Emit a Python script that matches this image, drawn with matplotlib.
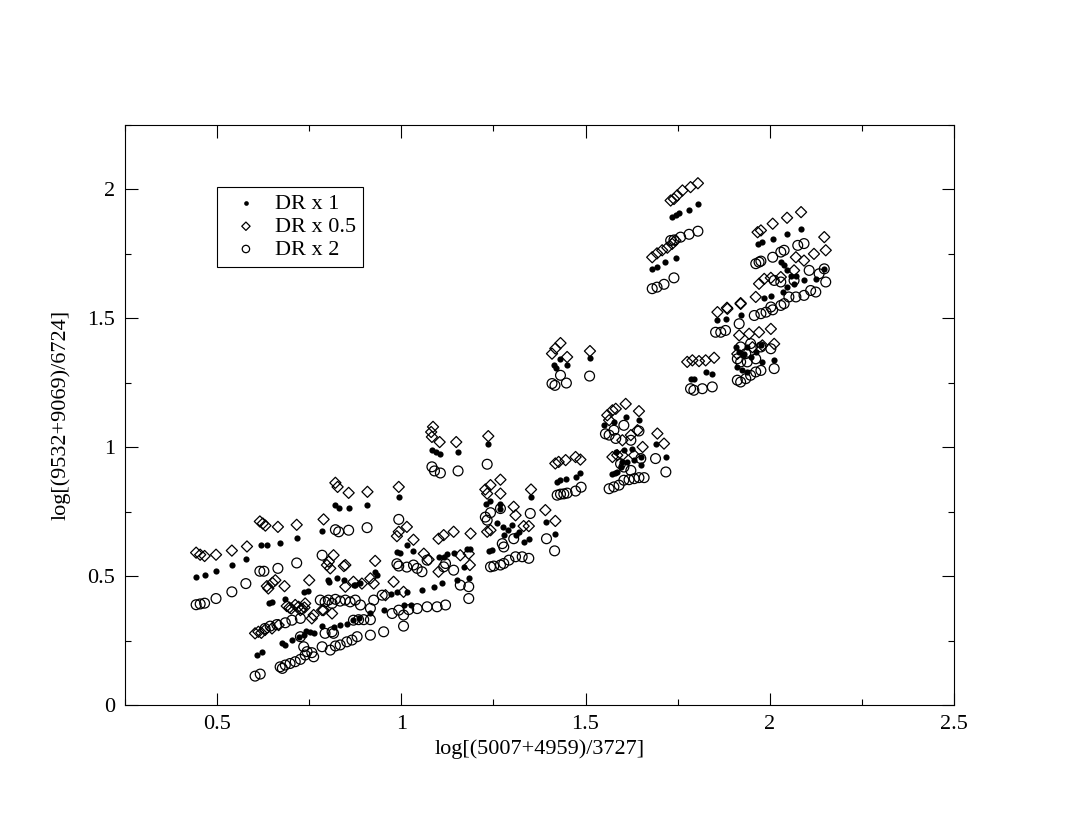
import matplotlib
matplotlib.use('Agg')
import matplotlib.pyplot as plt
from matplotlib.ticker import MultipleLocator, FuncFormatter

plt.rcParams['font.family'] = ['Liberation Serif', 'DejaVu Serif']

# DR x 1 (filled dots)
dr1_x = [0.443, 0.466, 0.497, 0.540, 0.578,
         0.619, 0.635, 0.670, 0.716,
         0.785, 0.821, 0.832, 0.857, 0.908, 0.993,
         1.083, 1.094, 1.106, 1.154, 1.236,
         1.414, 1.419, 1.432, 1.450, 1.512,
         1.423, 1.432, 1.446, 1.473, 1.486,
         1.550, 1.577, 1.609, 1.645, 1.690, 1.718, 1.582, 1.604, 1.627, 1.600,
         1.613, 1.632, 1.650, 1.573, 1.586, 1.595, 1.650, 1.580,
         1.736, 1.745, 1.754, 1.781, 1.805, 1.681, 1.694, 1.717, 1.745,
         1.785, 1.794, 1.826, 1.844,
         1.858, 1.880, 1.921, 1.908, 1.917, 1.930, 1.939, 1.948, 1.962, 1.976,
         1.980, 2.012, 1.912, 1.925, 1.939,
         1.967, 1.980, 2.008, 2.047, 2.085, 2.030, 2.039, 2.048, 2.057, 2.071,
         2.093, 2.125, 2.148, 1.984, 2.003, 2.035, 2.048, 2.066,
         0.608, 0.621, 0.676, 0.685, 0.703, 0.721, 0.735, 0.753, 0.785, 0.740,
         0.762, 0.816, 0.834, 0.852, 0.870, 0.884, 0.916, 0.952, 1.006, 1.025,
         0.641, 0.650, 0.685, 0.748, 0.736, 0.802, 0.825, 0.803, 0.844, 0.875,
         0.929, 0.971, 0.989, 1.016, 1.057, 1.088, 1.111, 1.152, 0.872, 0.887,
         0.933,
         0.988, 0.997, 1.015, 1.033, 1.101, 1.115, 1.124, 1.142, 1.178, 1.186,
         1.183, 1.169,
         1.231, 1.242, 1.269, 1.269, 1.352, 1.394, 1.416, 1.346, 1.332, 1.246,
         1.237, 1.275, 1.290, 1.300, 1.310, 1.320, 1.280, 1.260]
dr1_y = [0.498, 0.503, 0.519, 0.543, 0.567,
         0.622, 0.622, 0.630, 0.647,
         0.676, 0.775, 0.765, 0.765, 0.777, 0.807,
         0.988, 0.980, 0.972, 0.983, 1.012,
         1.318, 1.309, 1.343, 1.318, 1.347,
         0.864, 0.872, 0.876, 0.885, 0.899,
         1.085, 1.098, 1.117, 1.105, 1.014, 0.962, 0.982, 0.988, 0.995, 0.943,
         0.943, 0.950, 0.930, 0.897, 0.903, 0.923, 0.962, 0.899,
         1.893, 1.899, 1.908, 1.920, 1.944, 1.692, 1.701, 1.718, 1.735,
         1.266, 1.266, 1.292, 1.283,
         1.495, 1.499, 1.512, 1.389, 1.370, 1.363, 1.389, 1.350, 1.370, 1.395,
         1.331, 1.337, 1.312, 1.298, 1.292,
         1.789, 1.796, 1.808, 1.828, 1.847, 1.718, 1.705, 1.686, 1.666, 1.666,
         1.647, 1.654, 1.692, 1.579, 1.585, 1.602, 1.621, 1.634,
         0.194, 0.207, 0.239, 0.233, 0.252, 0.262, 0.271, 0.284, 0.306, 0.288,
         0.280, 0.304, 0.310, 0.316, 0.329, 0.336, 0.355, 0.368, 0.388, 0.388,
         0.397, 0.400, 0.410, 0.442, 0.439, 0.484, 0.491, 0.478, 0.484, 0.465,
         0.517, 0.432, 0.439, 0.439, 0.446, 0.459, 0.472, 0.484, 0.466, 0.474,
         0.506,
         0.594, 0.588, 0.620, 0.597, 0.575, 0.575, 0.585, 0.590, 0.607, 0.607,
         0.491, 0.536,
         0.781, 0.792, 0.781, 0.762, 0.805, 0.710, 0.665, 0.643, 0.633, 0.601,
         0.598, 0.690, 0.680, 0.700, 0.660, 0.670, 0.660, 0.705]

# DR x 0.5 (open diamonds)
dr05_x = [0.443, 0.454, 0.466, 0.497, 0.540, 0.581,
          0.616, 0.624, 0.631, 0.665, 0.716,
          0.789, 0.821, 0.827, 0.857, 0.908, 0.993,
          1.086, 1.081, 1.083, 1.104, 1.149, 1.236,
          1.432, 1.418, 1.409, 1.450, 1.512,
          1.418, 1.427, 1.446, 1.473, 1.486,
          1.559, 1.573, 1.582, 1.564, 1.609, 1.645, 1.695, 1.713, 1.573, 1.586,
          1.600, 1.623, 1.641, 1.655, 1.632, 1.600,
          1.731, 1.740, 1.749, 1.763, 1.785, 1.805, 1.681, 1.694, 1.708, 1.722,
          1.735, 1.744,
          1.776, 1.790, 1.808, 1.826, 1.849,
          1.858, 1.885, 1.921, 1.917, 1.944, 1.971, 2.003, 2.012, 1.912, 1.953,
          1.980,
          1.967, 1.976, 2.008, 2.047, 2.085, 2.148, 2.152, 2.120, 2.093, 2.071,
          2.066, 2.030, 1.985, 1.971, 1.962, 1.921, 1.884, 2.003,
          0.603, 0.612, 0.620, 0.630, 0.649, 0.667, 0.689, 0.696, 0.701, 0.712,
          0.721, 0.730, 0.737, 0.762, 0.785, 0.812, 0.726, 0.739, 0.757, 0.789,
          0.635, 0.639, 0.650, 0.658, 0.683, 0.750,
          0.816, 0.798, 0.807, 0.848, 0.929, 0.848, 0.870, 0.893, 0.916, 0.925,
          0.957, 0.979, 1.006,
          0.993, 0.988, 1.015, 1.033, 1.101, 1.115, 1.142, 1.188, 0.803, 0.844,
          1.061, 1.074, 1.160, 1.183, 1.101,
          1.269, 1.242, 1.228, 1.233, 1.269, 1.352, 1.305, 1.310, 1.332, 1.346,
          1.242, 1.233, 1.391, 1.418, 1.186]
dr05_y = [0.591, 0.583, 0.578, 0.583, 0.599, 0.615,
          0.712, 0.704, 0.696, 0.691, 0.699,
          0.720, 0.862, 0.846, 0.823, 0.827, 0.846,
          1.079, 1.059, 1.040, 1.020, 1.020, 1.043,
          1.404, 1.383, 1.363, 1.350, 1.373,
          0.937, 0.943, 0.950, 0.962, 0.952,
          1.124, 1.143, 1.149, 1.105, 1.168, 1.140, 1.053, 1.014, 0.962, 0.969,
          1.027, 1.047, 1.066, 1.001, 0.969, 0.969,
          1.957, 1.963, 1.977, 1.996, 2.009, 2.024, 1.737, 1.752, 1.764, 1.774,
          1.789, 1.802,
          1.331, 1.337, 1.334, 1.337, 1.347,
          1.524, 1.537, 1.556, 1.434, 1.440, 1.446, 1.459, 1.401, 1.362, 1.388,
          1.395,
          1.834, 1.841, 1.867, 1.890, 1.912, 1.815, 1.764, 1.750, 1.724, 1.737,
          1.686, 1.660, 1.653, 1.634, 1.583, 1.559, 1.541, 1.657,
          0.278, 0.284, 0.280, 0.291, 0.297, 0.310, 0.384, 0.378, 0.374, 0.388,
          0.381, 0.374, 0.378, 0.349, 0.368, 0.355, 0.368, 0.394, 0.336, 0.368,
          0.461, 0.452, 0.474, 0.484, 0.461, 0.484,
          0.581, 0.543, 0.530, 0.543, 0.559, 0.459, 0.478, 0.471, 0.491, 0.471,
          0.426, 0.478, 0.439,
          0.672, 0.655, 0.691, 0.641, 0.645, 0.659, 0.672, 0.665, 0.556, 0.539,
          0.587, 0.564, 0.581, 0.587, 0.517,
          0.874, 0.853, 0.836, 0.820, 0.820, 0.836, 0.769, 0.736, 0.694, 0.694,
          0.678, 0.672, 0.756, 0.714, 0.543]

# DR x 2 (open circles)
dr2_x = [0.443, 0.454, 0.466, 0.497, 0.540, 0.578,
         0.616, 0.627, 0.665, 0.716,
         0.785, 0.821, 0.830, 0.857, 0.907, 0.993,
         1.083, 1.090, 1.106, 1.154, 1.233,
         1.409, 1.417, 1.432, 1.448, 1.511,
         1.423, 1.432, 1.441, 1.450, 1.473, 1.488,
         1.554, 1.564, 1.577, 1.604, 1.645, 1.690, 1.718, 1.582, 1.623, 1.604,
         1.623, 1.650, 1.564, 1.577, 1.591, 1.604, 1.618, 1.632, 1.645, 1.659,
         1.595,
         1.731, 1.740, 1.758, 1.781, 1.805, 1.681, 1.694, 1.713, 1.740,
         1.785, 1.794, 1.817, 1.844,
         1.853, 1.867, 1.880, 1.917, 1.921, 1.935, 1.948, 1.976, 2.003, 1.912,
         1.921, 1.939, 1.962, 1.912, 1.921, 1.935, 1.948, 1.962, 1.976, 2.012,
         1.958, 1.976, 1.990, 2.008, 2.030, 2.039, 1.962, 1.971, 1.976, 2.008,
         2.030, 2.039, 2.076, 2.093, 2.012, 2.030, 2.066, 2.107, 2.134, 2.148,
         2.152, 2.071, 2.093, 2.111, 2.125, 2.003, 2.052,
         0.603, 0.617, 0.671, 0.677, 0.685, 0.698, 0.712, 0.726, 0.739, 0.757,
         0.744, 0.762, 0.785, 0.807, 0.821, 0.834, 0.852, 0.866, 0.880, 0.916,
         0.952, 0.816, 1.006,
         0.630, 0.644, 0.662, 0.685, 0.703, 0.726, 0.726, 0.735, 0.793, 0.812,
         0.780, 0.793, 0.802, 0.812, 0.821, 0.834, 0.848, 0.861, 0.875, 0.889,
         0.916, 0.925, 0.948, 0.870, 0.884, 0.898, 0.916,
         0.975, 0.993, 1.006, 1.020, 1.043, 1.070, 1.097, 1.120,
         0.988, 1.015, 1.033, 1.043, 1.056, 1.115, 1.142, 1.160, 1.183, 0.993,
         1.070, 1.120,
         1.183, 1.242, 1.251, 1.269, 1.278, 1.292, 1.310, 1.328, 1.346, 1.228,
         1.233, 1.242, 1.269, 1.305, 1.278, 1.274, 1.350, 1.394, 1.416]
dr2_y = [0.389, 0.392, 0.395, 0.413, 0.439, 0.471,
         0.519, 0.519, 0.530, 0.551,
         0.581, 0.680, 0.672, 0.678, 0.688, 0.720,
         0.924, 0.908, 0.900, 0.908, 0.934,
         1.247, 1.240, 1.279, 1.249, 1.276,
         0.814, 0.818, 0.819, 0.822, 0.830, 0.845,
         1.052, 1.047, 1.066, 1.085, 1.063, 0.956, 0.904, 1.034, 1.027, 0.923,
         0.910, 0.956, 0.839, 0.846, 0.853, 0.872, 0.874, 0.878, 0.882, 0.882,
         0.936,
         1.802, 1.804, 1.815, 1.826, 1.838, 1.615, 1.621, 1.632, 1.657,
         1.227, 1.221, 1.227, 1.234,
         1.446, 1.446, 1.453, 1.479, 1.389, 1.363, 1.402, 1.389, 1.382, 1.343,
         1.331, 1.331, 1.343, 1.260, 1.253, 1.266, 1.279, 1.292, 1.298, 1.305,
         1.511, 1.518, 1.524, 1.533, 1.550, 1.557, 1.712, 1.718, 1.722, 1.737,
         1.757, 1.764, 1.783, 1.790, 1.647, 1.641, 1.647, 1.686, 1.673, 1.692,
         1.641, 1.583, 1.589, 1.608, 1.602, 1.544, 1.583,
         0.112, 0.120, 0.148, 0.142, 0.155, 0.161, 0.168, 0.177, 0.194, 0.203,
         0.207, 0.187, 0.226, 0.213, 0.229, 0.233, 0.245, 0.252, 0.265, 0.271,
         0.284, 0.278, 0.306,
         0.297, 0.306, 0.312, 0.319, 0.329, 0.336, 0.265, 0.226, 0.278, 0.284,
         0.407, 0.400, 0.407, 0.394, 0.410, 0.403, 0.407, 0.400, 0.407, 0.388,
         0.375, 0.407, 0.426, 0.329, 0.331, 0.331, 0.331,
         0.355, 0.368, 0.349, 0.370, 0.374, 0.381, 0.381, 0.388,
         0.548, 0.535, 0.543, 0.530, 0.517, 0.536, 0.523, 0.465, 0.413, 0.539,
         0.562, 0.549,
         0.459, 0.536, 0.539, 0.543, 0.549, 0.562, 0.575, 0.575, 0.569, 0.729,
         0.717, 0.746, 0.762, 0.645, 0.613, 0.626, 0.743, 0.645, 0.598]

fig = plt.figure(figsize=(10.75, 8.3), dpi=100)
ax = fig.add_axes([0.1163, 0.1506, 0.7711, 0.6988])

ax.scatter(dr1_x, dr1_y, s=20, marker='o', color='black', linewidths=0,
           label='DR x 1', zorder=3)
ax.scatter(dr05_x, dr05_y, s=32, marker='D', facecolors='none',
           edgecolors='black', linewidths=0.9, label='DR x 0.5', zorder=3)
ax.scatter(dr2_x, dr2_y, s=50, marker='o', facecolors='none',
           edgecolors='black', linewidths=0.9, label='DR x 2', zorder=3)

ax.set_xlim(0.25, 2.5)
ax.set_ylim(0, 2.25)
ax.xaxis.set_major_locator(MultipleLocator(0.5))
ax.xaxis.set_minor_locator(MultipleLocator(0.25))
ax.yaxis.set_major_locator(MultipleLocator(0.5))
ax.yaxis.set_minor_locator(MultipleLocator(0.25))
fmt = FuncFormatter(lambda v, p: f"{v:g}")
ax.xaxis.set_major_formatter(fmt)
ax.yaxis.set_major_formatter(fmt)

ax.tick_params(which='both', direction='in', top=True, right=True, width=0.8,
               labelsize=16)
ax.tick_params(which='major', length=9, pad=7)
ax.tick_params(which='minor', length=4.5)
for sp in ax.spines.values():
    sp.set_linewidth(0.8)

ax.set_xlabel('log[(5007+4959)/3727]', fontsize=16, labelpad=4)
ax.set_ylabel('log[(9532+9069)/6724]', fontsize=16, labelpad=12)

leg = ax.legend(loc='upper left', bbox_to_anchor=(0.111, 0.893),
                borderaxespad=0, fontsize=16, fancybox=False, framealpha=1,
                edgecolor='black', handletextpad=0.3, borderpad=0.3,
                labelspacing=0.1, scatterpoints=1, markerscale=0.75)
leg.get_frame().set_linewidth(0.8)

fig.savefig('out.png', dpi=100)
